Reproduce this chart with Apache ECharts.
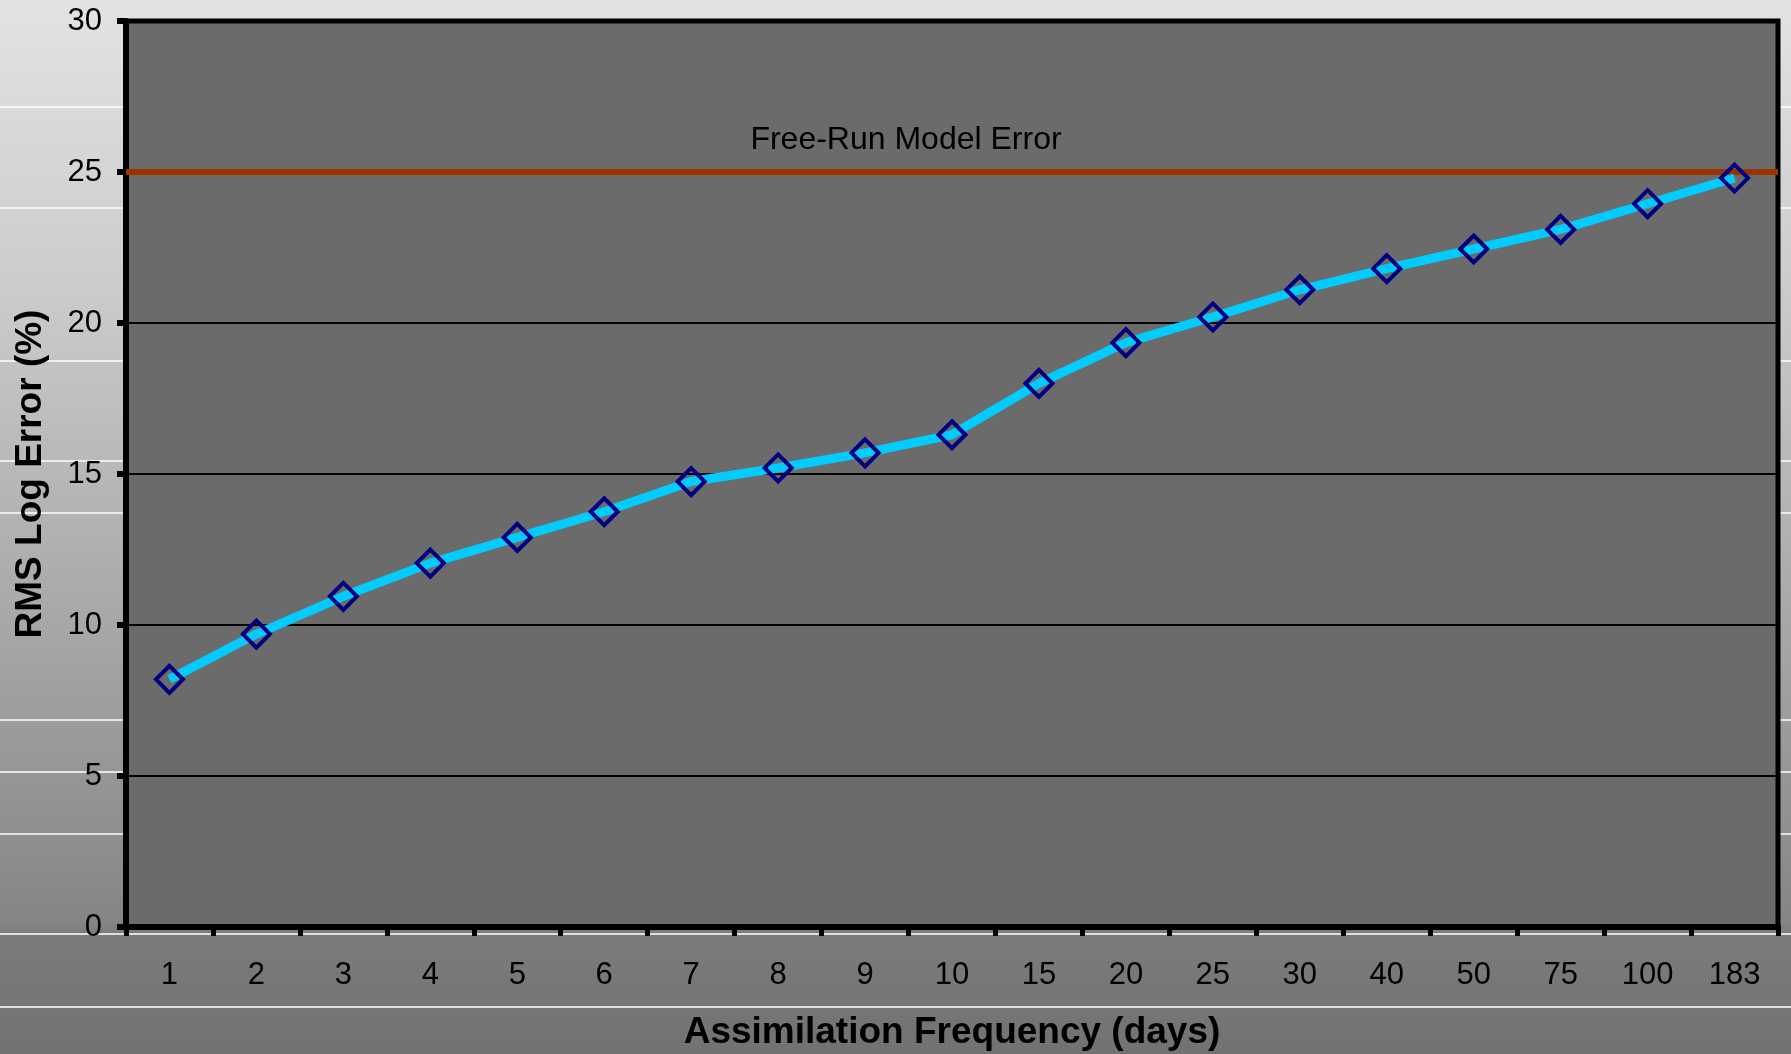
<!DOCTYPE html>
<html>
<head>
<meta charset="utf-8">
<title>RMS Log Error vs Assimilation Frequency</title>
<script src="https://cdn.jsdelivr.net/npm/echarts@6/dist/echarts.min.js"></script>
<style>
  html, body { margin: 0; padding: 0; background: #e3e3e3; }
  #chart { width: 1791px; height: 1054px; }
</style>
</head>
<body>
<div id="chart"></div>
<script>
// Assimilation interval (days) on the category axis
const frequencies = ['1', '2', '3', '4', '5', '6', '7', '8', '9', '10', '15', '20', '25', '30', '40', '50', '75', '100', '183'];
// RMS log error (%) for each assimilation interval
const rmsLogError = [8.2, 9.7, 10.95, 12.05, 12.9, 13.75, 14.75, 15.2, 15.7, 16.3, 18.0, 19.35, 20.2, 21.1, 21.8, 22.45, 23.1, 23.95, 24.8];
// Error level of the model run without assimilation
const freeRunError = 25;
const freeRunLabel = 'Free-Run Model Error';
// Value axis range and step
const yMin = 0, yMax = 30, yStep = 5;

const FONT = '"Liberation Sans", Arial, sans-serif';

// Thin white bands of the slide background
const bandLines = [107, 208, 361, 461, 513, 720, 772, 834, 934, 1007];

const chart = echarts.init(document.getElementById('chart'), null, { renderer: 'canvas' });

chart.setOption({
  animation: false,
  backgroundColor: {
    type: 'linear', x: 0, y: 0, x2: 0, y2: 1,
    colorStops: [
      { offset: 0, color: '#e3e3e3' },
      { offset: 0.28, color: '#cbcbcb' },
      { offset: 0.62, color: '#a4a4a4' },
      { offset: 0.875, color: '#858585' },
      { offset: 0.886, color: '#7b7b7b' },
      { offset: 1, color: '#727272' }
    ]
  },
  graphic: bandLines.map(y => ({
    type: 'line',
    z: -1,
    silent: true,
    shape: { x1: 0, y1: y, x2: 1791, y2: y },
    style: { stroke: '#ffffff', lineWidth: 1.5 }
  })),
  grid: {
    left: 126, right: 13, top: 21, bottom: 127,
    outerBoundsMode: 'none',
    containLabel: false,
    show: true,
    backgroundColor: '#6b6b6b',
    borderColor: '#000000',
    borderWidth: 5
  },
  xAxis: {
    type: 'category',
    data: frequencies,
    boundaryGap: true,
    name: 'Assimilation Frequency (days)',
    nameLocation: 'middle',
    nameGap: 87,
    nameTextStyle: { fontFamily: FONT, fontSize: 37, fontWeight: 'bold', color: '#000' },
    axisLine: { show: true, lineStyle: { color: '#000', width: 6 } },
    axisTick: { show: true, alignWithLabel: false, length: 9, lineStyle: { color: '#000', width: 5 } },
    axisLabel: { fontFamily: FONT, fontSize: 31, color: '#000', margin: 33, interval: 0 },
    splitLine: { show: false }
  },
  yAxis: {
    type: 'value',
    min: yMin, max: yMax, interval: yStep,
    name: 'RMS Log Error (%)',
    nameLocation: 'middle',
    nameRotate: 90,
    nameGap: 77,
    nameTextStyle: { fontFamily: FONT, fontSize: 37, fontWeight: 'bold', color: '#000' },
    axisLine: { show: true, lineStyle: { color: '#000', width: 6 } },
    axisTick: { show: true, inside: false, length: 9, lineStyle: { color: '#000', width: 6 } },
    axisLabel: { fontFamily: FONT, fontSize: 31, color: '#000', margin: 24, padding: [4, 0, 0, 0] },
    splitLine: { show: true, lineStyle: { color: '#000', width: 2 } }
  },
  series: [{
    type: 'line',
    data: rmsLogError,
    z: 3,
    symbol: 'diamond',
    symbolSize: 27,
    showSymbol: true,
    lineStyle: { color: '#00ccff', width: 9 },
    itemStyle: { color: 'rgba(0,0,0,0)', borderColor: '#000080', borderWidth: 4 },
    emphasis: { disabled: true },
    markLine: {
      silent: true,
      symbol: ['none', 'none'],
      z: 2,
      lineStyle: { color: '#993300', width: 6, type: 'solid' },
      label: {
        show: true,
        position: 'insideMiddleTop',
        formatter: freeRunLabel,
        fontFamily: FONT,
        fontSize: 32,
        color: '#000',
        distance: 16,
        padding: [0, 92, 0, 0]
      },
      data: [{ yAxis: freeRunError }]
    }
  }]
});
</script>
</body>
</html>
